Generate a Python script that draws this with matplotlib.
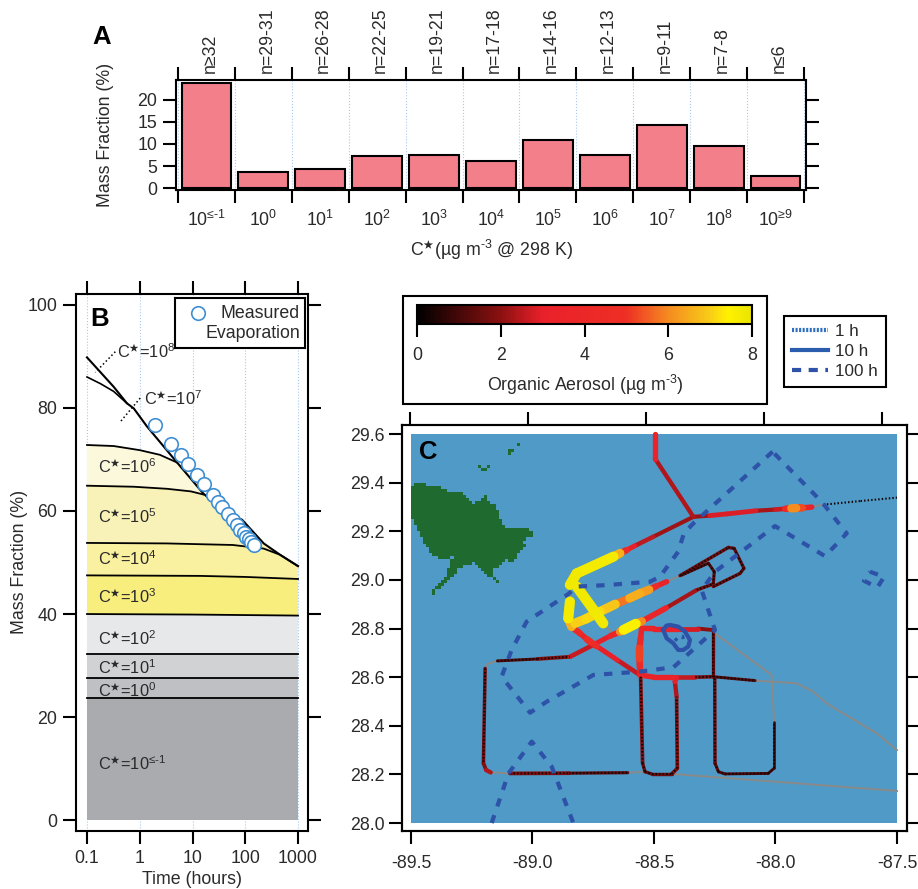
import numpy as np
import matplotlib
matplotlib.use("Agg")
import matplotlib.pyplot as plt
from matplotlib.cm import ScalarMappable
from matplotlib.collections import LineCollection
from matplotlib.colors import LinearSegmentedColormap, ListedColormap, Normalize
from matplotlib.lines import Line2D
from matplotlib.patches import Rectangle
from matplotlib.path import Path

W, H = 918, 889

plt.rcParams['font.family'] = ['Liberation Sans', 'DejaVu Sans']
plt.rcParams['mathtext.fontset'] = 'custom'
plt.rcParams['mathtext.rm'] = 'Liberation Sans'
plt.rcParams['mathtext.it'] = 'Liberation Sans'
plt.rcParams['mathtext.bf'] = 'Liberation Sans:bold'
plt.rcParams['mathtext.fallback'] = 'stix'
plt.rcParams['font.size'] = 12.8
plt.rcParams['text.color'] = '#2a2a2a'
plt.rcParams['axes.labelcolor'] = '#2a2a2a'
plt.rcParams['xtick.labelcolor'] = '#2a2a2a'
plt.rcParams['ytick.labelcolor'] = '#2a2a2a'
plt.rcParams['axes.linewidth'] = 1.5

# panel A
bin_labels = ['≤-1', '0', '1', '2', '3', '4', '5', '6', '7', '8', '≥9']
carbon_labels = ['n≥32', 'n=29-31', 'n=26-28', 'n=22-25', 'n=19-21', 'n=17-18',
                 'n=14-16', 'n=12-13', 'n=9-11', 'n=7-8', 'n≤6']
mass_fraction = [23.7, 3.6, 4.3, 7.2, 7.4, 6.1, 10.8, 7.6, 14.2, 9.5, 2.7]

# panel B
envelope_t = [0.1, 0.32, 0.57, 0.77, 1.37, 5.1, 16, 45, 87, 224, 457, 1000]
envelope_y = [89.8, 84.1, 80.9, 79.9, 76.4, 69.4, 63.4, 59.4, 58.3, 53.7, 51.5, 49.3]
c7_t = [0.1, 0.18, 0.32, 0.57]
c7_y = [86.0, 84.7, 83.2, 80.9]
c6_t = [0.1, 0.32, 1.0, 2.4, 5.1]
c6_y = [72.8, 72.6, 71.8, 70.9, 69.4]
c5_t = [0.1, 0.77, 3.3, 9.3, 16]
c5_y = [64.9, 64.7, 64.3, 63.8, 63.2]
c4_t = [0.1, 3.3, 58, 224, 457, 1000]
c4_y = [53.8, 53.7, 53.4, 52.7, 51.5, 49.3]
c3_t = [0.1, 14, 100, 1000]
c3_y = [47.5, 47.4, 47.2, 46.8]
c2_t = [0.1, 10, 1000]
c2_y = [40.0, 39.9, 39.7]
c1_y = 32.2
c0_y = 27.6
low_y = 23.8
time_ticks = [0.1, 1, 10, 100, 1000]
time_labels = ['0.1', '1', '10', '100', '1000']

evap_t = [1.97, 3.96, 6.04, 8.1, 12.2, 16.3, 24, 30, 36, 47, 59, 69, 81, 93, 105, 116, 128, 144]
evap_y = [76.6, 73.0, 70.8, 69.1, 67.0, 65.2, 63.1, 61.8, 60.8, 59.4, 58.3, 57.3, 56.3,
          55.7, 55.0, 54.5, 53.9, 53.4]

label_exp = ['8', '7', '6', '5', '4', '3', '2', '1', '0', '≤-1']
label_t = [0.37, 1.2, 0.16, 0.16, 0.16, 0.16, 0.16, 0.16, 0.16, 0.16]
label_y = [89.7, 80.6, 67.4, 57.7, 49.5, 42.1, 34.0, 28.3, 23.9, 9.7]

# panel C: land outline, lon/lat
land_lon = [-89.5, -89.463, -89.408, -89.374, -89.340, -89.285, -89.250, -89.216, -89.195,
            -89.182, -89.154, -89.134, -89.113, -89.072, -89.017, -88.997, -89.038, -89.027,
            -89.065, -89.072, -89.106, -89.134, -89.175, -89.137, -89.195, -89.237, -89.257,
            -89.250, -89.305, -89.340, -89.394, -89.415, -89.401, -89.346, -89.340, -89.319,
            -89.353, -89.408, -89.442, -89.484, -89.5]
land_lat = [29.391, 29.401, 29.384, 29.384, 29.364, 29.357, 29.313, 29.329, 29.350,
            29.322, 29.309, 29.261, 29.213, 29.213, 29.213, 29.178, 29.165, 29.137,
            29.110, 29.062, 29.089, 29.055, 29.041, 28.989, 29.027, 29.069, 29.103,
            29.069, 29.048, 29.000, 28.959, 28.931, 28.973, 29.027, 29.075, 29.110,
            29.085, 29.099, 29.151, 29.226, 29.261]
islet_lon = [-89.216, -89.205, -89.195, -89.183, -89.205, -89.195, -89.10, -89.09, -89.08, -89.056]
islet_lat = [29.465, 29.460, 29.460, 29.470, 29.450, 29.450, 29.514, 29.525, 29.535, 29.556]

# flight legs: lon, lat, organic aerosol
leg_north = [(-88.496, 29.60, 3.8), (-88.496, 29.50, 2.8), (-88.338, 29.26, 2.0)]
leg_east = [(-88.338, 29.26, 2.0), (-88.27, 29.265, 2.4), (-88.20, 29.272, 3.3), (-88.08, 29.285, 2.4),
            (-88.0, 29.29, 2.2), (-87.96, 29.293, 3.2), (-87.935, 29.295, 5.5), (-87.915, 29.296, 6.6),
            (-87.89, 29.297, 4.0), (-87.851, 29.30, 2.8)]
leg_east_far = [(-87.803, 29.31, 0.4), (-87.65, 29.325, 0.3), (-87.5, 29.339, 0.2)]
leg_nw = [(-88.338, 29.26, 2.1), (-88.503, 29.178, 2.3), (-88.58, 29.14, 2.8), (-88.613, 29.123, 3.2),
          (-88.64, 29.11, 5.5), (-88.667, 29.096, 7.6), (-88.818, 29.027, 7.8), (-88.846, 28.98, 7.8)]
leg_coast = [(-88.846, 28.911, 7.8), (-88.853, 28.842, 7.6), (-88.839, 28.808, 5.5), (-88.805, 28.781, 3.0),
             (-88.775, 28.755, 4.0), (-88.763, 28.746, 5.5), (-88.736, 28.728, 3.2), (-88.65, 28.67, 2.8),
             (-88.558, 28.609, 2.5)]
leg_lane1 = [(-88.555, 28.602, 2.2), (-88.547, 28.246, 1.5), (-88.537, 28.211, 1.5), (-88.51, 28.202, 1.4),
             (-88.427, 28.202, 1.7), (-88.404, 28.225, 1.9), (-88.407, 28.52, 1.8), (-88.414, 28.582, 3.0),
             (-88.407, 28.598, 3.2)]
leg_box = [(-88.558, 28.609, 3.4), (-88.50, 28.60, 3.4), (-88.42, 28.60, 3.2), (-88.33, 28.60, 2.0),
           (-88.256, 28.602, 1.5), (-88.256, 28.70, 1.3), (-88.256, 28.794, 1.6), (-88.32, 28.80, 2.4),
           (-88.40, 28.80, 3.2), (-88.50, 28.80, 3.4), (-88.551, 28.801, 3.6), (-88.555, 28.76, 3.4),
           (-88.56, 28.72, 5.0), (-88.56, 28.68, 5.4), (-88.558, 28.64, 3.4), (-88.558, 28.609, 3.6)]
leg_box_east = [(-88.256, 28.602, 1.5), (-88.084, 28.586, 0.9)]
leg_lane2 = [(-88.25, 28.595, 1.9), (-88.249, 28.246, 1.4), (-88.235, 28.211, 1.2), (-88.208, 28.202, 1.2),
             (-88.03, 28.204, 1.0), (-88.006, 28.225, 1.0), (-88.006, 28.417, 0.6)]
leg_far_west = [(-89.195, 28.636, 1.7), (-89.202, 28.246, 1.6), (-89.191, 28.218, 2.2), (-89.172, 28.208, 2.6)]
leg_south = [(-89.093, 28.204, 2.2), (-88.85, 28.205, 1.5), (-88.608, 28.207, 1.2)]
leg_diag = [(-89.145, 28.667, 1.0), (-88.98, 28.675, 1.4), (-88.846, 28.684, 2.3), (-88.75, 28.733, 3.0),
            (-88.68, 28.77, 3.0), (-88.64, 28.787, 4.5), (-88.625, 28.795, 7.5), (-88.575, 28.82, 7.5),
            (-88.55, 28.83, 4.5), (-88.45, 28.885, 2.8), (-88.324, 28.959, 1.8), (-88.256, 28.984, 1.5),
            (-88.252, 29.034, 1.2), (-88.276, 29.069, 1.2), (-88.386, 29.02, 1.0)]
leg_inner = [(-88.825, 28.822, 7.5), (-88.78, 28.84, 6.5), (-88.722, 28.87, 7.8), (-88.66, 28.90, 6.0),
             (-88.60, 28.925, 5.5), (-88.558, 28.945, 7.5), (-88.52, 28.96, 5.0), (-88.49, 28.975, 3.5),
             (-88.448, 28.993, 3.2)]
leg_outer = [(-88.393, 29.018, 1.6), (-88.194, 29.134, 1.6), (-88.17, 29.13, 1.4), (-88.13, 29.048, 1.4),
             (-88.146, 29.027, 1.4), (-88.256, 28.973, 1.6)]
leg_cross = [(-88.818, 28.973, 7.8), (-88.709, 28.822, 7.8)]
flight_legs = [leg_north, leg_east, leg_east_far, leg_nw, leg_coast, leg_lane1, leg_box, leg_box_east,
               leg_lane2, leg_far_west, leg_south, leg_diag, leg_inner, leg_outer, leg_cross]

# parts of the track without aerosol data
gray_legs = [
    [(-88.846, 28.98), (-88.846, 28.911)],
    [(-88.709, 28.822), (-88.66, 28.77)],
    [(-88.249, 28.78), (-88.016, 28.609), (-88.006, 28.417)],
    [(-88.084, 28.586), (-87.913, 28.575), (-87.844, 28.54), (-87.789, 28.492), (-87.584, 28.369), (-87.5, 28.30)],
    [(-89.195, 28.636), (-89.186, 28.654), (-89.145, 28.667)],
    [(-89.172, 28.208), (-89.093, 28.204)],
    [(-88.608, 28.207), (-88.537, 28.211)],
    [(-88.427, 28.202), (-88.0, 28.17), (-87.5, 28.132)],
    [(-87.851, 29.30), (-87.803, 29.31)],
    [(-88.448, 28.993), (-88.393, 29.018)],
]

# back trajectories
traj_100h_a = [(-88.012, 29.528), (-88.338, 29.233), (-88.377, 29.192), (-88.400, 29.117), (-88.475, 29.014),
               (-88.516, 28.993), (-88.695, 28.979), (-88.818, 28.973), (-88.853, 28.942), (-89.024, 28.829),
               (-89.086, 28.712), (-89.127, 28.602), (-89.010, 28.454), (-88.942, 28.499), (-88.750, 28.609),
               (-88.558, 28.623), (-88.420, 28.641), (-88.249, 28.794), (-88.304, 28.959), (-88.249, 29.034),
               (-88.002, 29.222), (-87.796, 29.098), (-87.707, 29.192), (-87.81, 29.322), (-88.012, 29.528)]
traj_100h_b = [(-87.611, 29.034), (-87.553, 29.013), (-87.581, 28.969), (-87.636, 28.997), (-87.611, 29.034)]
traj_100h_c = [(-89.168, 28.0), (-89.099, 28.204), (-89.003, 28.335), (-88.921, 28.232), (-88.832, 28.0)]
traj_10h = [(-88.462, 28.795), (-88.449, 28.812), (-88.434, 28.815), (-88.400, 28.808), (-88.373, 28.788),
            (-88.352, 28.753), (-88.359, 28.726), (-88.380, 28.712), (-88.400, 28.712), (-88.421, 28.740),
            (-88.448, 28.760), (-88.462, 28.795)]
traj_1h = [(-88.414, 28.75), (-88.400, 28.765), (-88.382, 28.768), (-88.377, 28.747)]

lon_ticks = [-89.5, -89.0, -88.5, -88.0, -87.5]
lat_ticks = [28.0, 28.2, 28.4, 28.6, 28.8, 29.0, 29.2, 29.4, 29.6]
lon_top_ticks = [-89.504, -89.019, -88.533, -88.047, -87.562]
oa_ticks = [0, 2, 4, 6, 8]

oa_cmap = LinearSegmentedColormap.from_list('oa', [
    (0.0, '#000000'), (0.25, '#8C1010'), (0.375, '#E9202A'), (0.625, '#EE2F25'),
    (0.75, '#F58A20'), (0.875, '#F8CC18'), (0.93, '#FFF200'), (1.0, '#EAE400')])
oa_norm = Normalize(0, 8)

fill_colors = ['#FCF8DC', '#F9F2B8', '#F9F0A0', '#F8EE7E', '#E6E8EA', '#D0D2D4', '#BEC0C3']
low_color = '#A9ABAE'
map_blue = '#4F9AC6'
land_green = '#1F6A2E'
grid_blue = '#A8C8F0'
traj_blue = '#2E52A8'
TICK_LEN = 9.5


def c_label(exp):
    return rf'C$^{{\bigstar}}$=10$^{{\text{{{exp}}}}}$'


def px_axes(fig, left, top, right, bottom, **kw):
    return fig.add_axes([left / W, 1 - bottom / H, (right - left) / W, (bottom - top) / H], **kw)


def px_box(fig, left, top, right, bottom):
    box = Rectangle((left / W, 1 - bottom / H), (right - left) / W, (bottom - top) / H, transform=fig.transFigure,
                    facecolor='white', edgecolor='black', linewidth=1.5)
    fig.add_artist(box)


def px_text(fig, x, y, s, **kw):
    fig.text(x / W, 1 - y / H, s, **kw)


def all_side_ticks(ax):
    ax.tick_params(which='major', direction='out', length=TICK_LEN, width=1.5, top=True, right=True,
                   bottom=True, left=True, pad=4)


def plot_panel_a(fig):
    ax = px_axes(fig, 176, 80, 806, 190)
    edges = np.arange(len(mass_fraction) + 1)
    centers = edges[:-1] + 0.5
    for e in edges:
        ax.axvline(e, color=grid_blue, lw=0.8, ls=':', zorder=0)
    ax.bar(centers, mass_fraction, width=0.875, color='#F37F8A', edgecolor='black', linewidth=1.5, zorder=2)
    ax.set_xlim(-0.035, 11.035)
    ax.set_ylim(-0.4, 24.4)
    ax.set_yticks([0, 5, 10, 15, 20])
    ax.set_xticks(edges)
    ax.set_xticklabels([])
    ax.set_xticks(centers, minor=True)
    ax.set_xticklabels([rf'10$^{{\text{{{b}}}}}$' for b in bin_labels], minor=True)
    all_side_ticks(ax)
    ax.tick_params(axis='x', which='minor', length=0, pad=14, top=False, bottom=True)
    for c, lab in zip(centers, carbon_labels):
        ax.annotate(lab, xy=(c, 1), xycoords=ax.get_xaxis_transform(), xytext=(2.5, 5),
                    textcoords='offset points', rotation=90, ha='center', va='bottom')
    px_text(fig, 106, 135, 'Mass Fraction (%)', rotation=90, ha='center', va='center')
    px_text(fig, 491, 250, r'C$^{\bigstar}$(µg m$^{\text{-3}}$ @ 298 K)', ha='center', va='center')
    px_text(fig, 102, 37, 'A', fontsize=18.5, fontweight='bold', color='black', ha='center', va='center')


def plot_panel_b(fig):
    ax = px_axes(fig, 76, 294, 308, 831)
    ax.set_xscale('log')
    for t in time_ticks:
        ax.axvline(t, color=grid_blue, lw=0.8, ls=':', zorder=0)

    # each class is filled down to the low-volatility block, top class first
    c6_full = (c6_t + envelope_t[5:], c6_y + envelope_y[5:])
    c5_full = (c5_t + envelope_t[7:], c5_y + envelope_y[7:])
    curves = [c6_full, c5_full, (c4_t, c4_y), (c3_t, c3_y), (c2_t, c2_y),
              ([0.1, 1000], [c1_y, c1_y]), ([0.1, 1000], [c0_y, c0_y])]
    for (t, y), col in zip(curves, fill_colors):
        ax.fill(list(t) + [1000, 0.1], list(y) + [low_y, low_y], color=col, lw=0, zorder=1)
    ax.fill([0.1, 1000, 1000, 0.1], [low_y, low_y, 0, 0], color=low_color, lw=0, zorder=1)

    ax.plot(envelope_t, envelope_y, color='black', lw=1.5, zorder=3)
    ax.plot(c7_t, c7_y, color='black', lw=1.2, zorder=3)
    for t, y in [(c6_t, c6_y), (c5_t, c5_y), (c4_t, c4_y), (c3_t, c3_y), (c2_t, c2_y),
                 ([0.1, 1000], [c1_y, c1_y]), ([0.1, 1000], [c0_y, c0_y]), ([0.1, 1000], [low_y, low_y])]:
        ax.plot(t, y, color='black', lw=1.3, zorder=3)

    ax.plot([0.344, 0.144], [90.9, 86.9], color='black', lw=1.1, ls=':', zorder=3)
    ax.plot([1.02, 0.428], [81.9, 77.3], color='black', lw=1.1, ls=':', zorder=3)
    ax.scatter(evap_t, evap_y, s=95, facecolor='white', edgecolor='#3F8FD2', linewidth=1.2, zorder=4)

    for exp, t, y in zip(label_exp, label_t, label_y):
        ax.text(t, y, c_label(exp), fontsize=11.8, ha='left', va='baseline', zorder=5)

    ax.set_xlim(0.1 * 10 ** (-11 / 52.75), 1000 * 10 ** (10 / 52.75))
    ax.set_ylim(-2.1, 102.1)
    ax.set_yticks([0, 20, 40, 60, 80, 100])
    ax.set_xticks(time_ticks)
    ax.set_xticklabels(time_labels)
    ax.minorticks_off()
    all_side_ticks(ax)
    px_text(fig, 20, 562, 'Mass Fraction (%)', rotation=90, ha='center', va='center')
    px_text(fig, 192, 880, 'Time (hours)', ha='center', va='center')
    px_text(fig, 100, 319, 'B', fontsize=18.5, fontweight='bold', color='black', ha='center', va='center')

    # legend box
    lg = px_axes(fig, 175, 298, 305, 348, zorder=6)
    lg.set_xlim(175, 305)
    lg.set_ylim(348, 298)
    lg.set_xticks([])
    lg.set_yticks([])
    lg.scatter([198], [313], s=95, facecolor='white', edgecolor='#3F8FD2', linewidth=1.2)
    lg.text(300, 313, 'Measured', ha='right', va='center')
    lg.text(300, 333, 'Evaporation', ha='right', va='center')


def plot_tracks(ax):
    for leg in gray_legs:
        xs, ys = zip(*leg)
        ax.plot(xs, ys, color='#8A8A8A', lw=1.4, zorder=3)

    segs, vals = [], []
    for leg in flight_legs:
        for (x0, y0, v0), (x1, y1, v1) in zip(leg[:-1], leg[1:]):
            segs.append([(x0, y0), (x1, y1)])
            vals.append((v0 + v1) / 2)
    vals = np.array(vals)
    segs = np.array(segs)
    order = np.argsort(vals)
    segs, vals = segs[order], vals[order]

    solid = vals >= 0.8
    lc = LineCollection(segs[solid], colors=oa_cmap(oa_norm(vals[solid])), linewidths=1.2 + 0.8 * vals[solid],
                        capstyle='round', zorder=4)
    ax.add_collection(lc)
    dark = vals < 1.9
    dots = LineCollection(segs[dark], colors='#140404', linewidths=1.5, linestyles=[(0, (0.7, 1.0))], zorder=5)
    ax.add_collection(dots)


def plot_panel_c(fig):
    ax = px_axes(fig, 402, 425, 907, 831)
    ax.add_patch(Rectangle((-89.5, 28.0), 2.0, 1.6, facecolor=map_blue, edgecolor='none', zorder=1))

    # land on a coarse grid so that the coast stays blocky
    cell = 0.0125
    gx = np.arange(-89.5, -88.95, cell)
    gy = np.arange(28.9, 29.6, cell)
    cx, cy = np.meshgrid(gx + cell / 2, gy + cell / 2)
    inside = Path(np.column_stack([land_lon, land_lat])).contains_points(np.column_stack([cx.ravel(), cy.ravel()]))
    mask = inside.reshape(cx.shape)
    for x, y in zip(islet_lon, islet_lat):
        mask[int((y - gy[0]) / cell), int((x - gx[0]) / cell)] = True
    ax.pcolormesh(np.append(gx, gx[-1] + cell), np.append(gy, gy[-1] + cell), np.ma.masked_where(~mask, mask),
                  cmap=ListedColormap([land_green]), shading='flat', zorder=2)

    plot_tracks(ax)

    for traj in (traj_100h_a, traj_100h_b, traj_100h_c):
        xs, ys = zip(*traj)
        ax.plot(xs, ys, color=traj_blue, lw=3.0, dashes=(2.0, 2.2), dash_capstyle='butt', zorder=6)
    xs, ys = zip(*traj_10h)
    ax.plot(xs, ys, color=traj_blue, lw=3.0, zorder=6)
    xs, ys = zip(*traj_1h)
    ax.plot(xs, ys, color=traj_blue, lw=2.4, ls=':', zorder=6)

    ax.set_xlim(-89.5 - 9 / 243, -87.5 + 10 / 243)
    ax.set_ylim(28.0 - 8 / 243, 28.0 + 398 / 243)
    ax.set_xticks(lon_ticks)
    ax.set_xticklabels([f'{x:.1f}' for x in lon_ticks])
    ax.set_yticks(lat_ticks)
    ax.set_yticklabels([f'{y:.1f}' for y in lat_ticks])
    ax.tick_params(direction='out', length=TICK_LEN, width=1.5, right=True, top=False, pad=3)
    ax.tick_params(axis='x', pad=8)

    top = ax.twiny()
    top.set_xlim(ax.get_xlim())
    top.set_xticks(lon_top_ticks)
    top.set_xticklabels([])
    top.tick_params(direction='out', length=TICK_LEN, width=1.5)
    px_text(fig, 428, 452, 'C', fontsize=18.5, fontweight='bold', color='black', ha='center', va='center')


def plot_colorbar(fig):
    px_box(fig, 403, 296, 767, 404)
    cax = px_axes(fig, 417, 305, 752, 324, zorder=5)
    cb = fig.colorbar(ScalarMappable(norm=oa_norm, cmap=oa_cmap), cax=cax, orientation='horizontal')
    cb.set_ticks(oa_ticks)
    cb.outline.set_linewidth(1.5)
    cax.tick_params(direction='out', length=TICK_LEN, width=1.5, pad=7)
    px_text(fig, 585, 385, r'Organic Aerosol (µg m$^{\text{-3}}$)', ha='center', va='center', zorder=6)

    handles = [Line2D([], [], color='#2F6FC0', lw=3, ls=(0, (0.5, 0.35))),
               Line2D([], [], color='#2B5DAF', lw=3),
               Line2D([], [], color=traj_blue, lw=3, dashes=(2.2, 1.8))]
    leg = fig.legend(handles, ['1 h', '10 h', '100 h'], loc='upper left', bbox_to_anchor=(784 / W, 1 - 316 / H),
                     borderaxespad=0, borderpad=0.45, labelspacing=0.31, handlelength=2.1, handletextpad=0.45,
                     fancybox=False, framealpha=1, edgecolor='black', fontsize=12.3)
    leg.get_frame().set_linewidth(1.5)


def main():
    fig = plt.figure(figsize=(W / 100, H / 100), dpi=100, facecolor='white')
    plot_panel_a(fig)
    plot_panel_b(fig)
    plot_panel_c(fig)
    plot_colorbar(fig)
    fig.savefig('out.png', dpi=100)


if __name__ == "__main__":
    main()
